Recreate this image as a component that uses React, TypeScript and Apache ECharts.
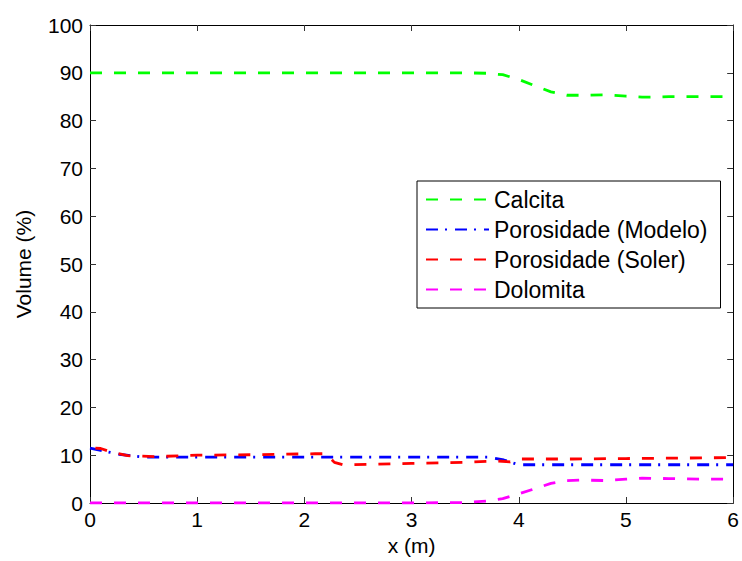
import React, { useEffect, useRef } from "react";
import * as echarts from "echarts";

const xTicks = [0, 1, 2, 3, 4, 5, 6];
const yTicks = [0, 10, 20, 30, 40, 50, 60, 70, 80, 90, 100];

const calcitaX = [0, 1, 2, 3, 3.5, 3.7, 3.85, 4.0, 4.15, 4.3, 4.45, 4.6, 4.8, 5.0, 5.15, 5.4, 5.7, 6.0];
const calcitaY = [90, 90, 90, 90, 90, 89.9, 89.6, 88.6, 87.3, 86.0, 85.3, 85.3, 85.4, 85.1, 84.9, 85.0, 85.0, 85.0];

const modeloX = [0, 0.1, 0.27, 0.5, 1, 2, 3, 3.72, 3.86, 4.0, 4.5, 5, 6];
const modeloY = [11.5, 11.0, 10.2, 9.6, 9.6, 9.6, 9.6, 9.6, 9.0, 8.0, 8.0, 8.0, 8.0];

const solerX = [0.05, 0.1, 0.19, 0.35, 0.6, 1, 1.5, 2.1, 2.2, 2.28, 2.36, 2.6, 3.0, 3.5, 3.8, 3.92, 4.02, 4.5, 5, 5.5, 6];
const solerY = [11.5, 11.4, 10.7, 9.9, 9.7, 10.0, 10.1, 10.3, 10.3, 8.5, 8.0, 8.1, 8.3, 8.5, 8.8, 8.6, 9.2, 9.2, 9.3, 9.4, 9.5];

const dolomitaX = [0, 1, 2, 3, 3.5, 3.7, 3.85, 4.0, 4.15, 4.3, 4.45, 4.6, 4.8, 5.0, 5.15, 5.4, 5.7, 6.0];
const dolomitaY = [0, 0, 0, 0, 0.1, 0.4, 0.9, 1.9, 3.0, 4.1, 4.7, 4.8, 4.7, 5.0, 5.2, 5.1, 5.0, 5.0];

const seriesNames = ["Calcita", "Porosidade (Modelo)", "Porosidade (Soler)", "Dolomita"];

const pairs = (xs: number[], ys: number[]) => xs.map((x, i) => [x, ys[i]]);

export default function App() {
  const ref = useRef<HTMLDivElement>(null);
  useEffect(() => {
    if (!ref.current) return;
    const chart = echarts.init(ref.current, undefined, { renderer: "svg" });
    const font = "'Liberation Sans', Arial, sans-serif";
    const axisCommon = {
      axisLine: { show: true, onZero: false, lineStyle: { color: "#000", width: 1 } },
      axisTick: { show: true, inside: true, length: 6, lineStyle: { color: "#333" } },
      splitLine: { show: false },
    };
    const mkLine = (name: string, data: number[][], color: string, dash: number[]) => ({
      name,
      type: "line",
      data,
      showSymbol: false,
      symbol: "none",
      xAxisIndex: 0,
      yAxisIndex: 0,
      lineStyle: { color, width: 2.8, type: dash },
      itemStyle: { color },
    });
    chart.setOption({
      animation: false,
      backgroundColor: "#fff",
      grid: { left: 90, right: 7, top: 25, bottom: 56, containLabel: false },
      legend: {
        orient: "vertical",
        left: 417,
        top: 181,
        data: seriesNames,
        backgroundColor: "#fff",
        borderColor: "#000",
        borderWidth: 1,
        borderRadius: 0,
        padding: [7, 13, 7, 8],
        itemWidth: 63,
        itemHeight: 14,
        itemGap: 7,
        itemStyle: { opacity: 0 },
        textStyle: { fontFamily: font, fontSize: 23, color: "#000", lineHeight: 22 },
        selectedMode: false,
      },
      xAxis: [
        {
          type: "value",
          min: 0,
          max: 6,
          interval: 1,
          name: "x (m)",
          nameLocation: "middle",
          nameGap: 32,
          nameTextStyle: { fontFamily: font, fontSize: 21, color: "#000" },
          axisLabel: { fontFamily: font, fontSize: 21, color: "#000", margin: 6 },
          ...axisCommon,
        },
        {
          type: "value",
          position: "top",
          min: 0,
          max: 6,
          interval: 1,
          axisLabel: { show: false },
          ...axisCommon,
        },
      ],
      yAxis: [
        {
          type: "value",
          min: 0,
          max: 100,
          interval: 10,
          name: "Volume (%)",
          nameLocation: "middle",
          nameGap: 56,
          nameTextStyle: { fontFamily: font, fontSize: 21, color: "#000" },
          axisLabel: { fontFamily: font, fontSize: 21, color: "#000", margin: 7 },
          ...axisCommon,
        },
        {
          type: "value",
          position: "right",
          min: 0,
          max: 100,
          interval: 10,
          axisLabel: { show: false },
          ...axisCommon,
        },
      ],
      series: [
        mkLine(seriesNames[0], pairs(calcitaX, calcitaY), "#00ff00", [12, 12]),
        mkLine(seriesNames[1], pairs(modeloX, modeloY), "#0000ff", [12, 7, 2, 8]),
        mkLine(seriesNames[2], pairs(solerX, solerY), "#ff0000", [12, 12]),
        mkLine(seriesNames[3], pairs(dolomitaX, dolomitaY), "#ff00ff", [12, 12]),
      ],
    });
    return () => chart.dispose();
  }, []);
  return <div ref={ref} style={{ width: 742, height: 561, position: "absolute", left: 0, top: 0 }} />;
}
